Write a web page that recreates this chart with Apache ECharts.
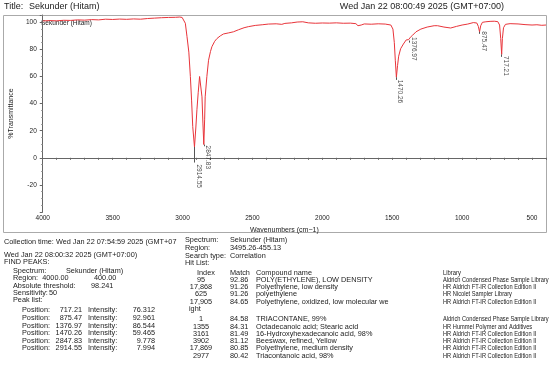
<!DOCTYPE html>
<html><head><meta charset="utf-8">
<script src="https://cdn.jsdelivr.net/npm/echarts@6/dist/echarts.min.js"></script>
<style>html,body{margin:0;padding:0;background:#fff}#c{width:550px;height:365px}</style>
</head><body><div id="c"></div>
<script>
// Spectrum: wavenumber (cm-1) and %Transmittance
const wavenumbers = [4000,3950,3900,3850,3800,3750,3700,3650,3600,3550,3500,3450,3400,3350,3300,3250,3200,3150,3100,3050,3020,3003,2990,2980,2968,2955,2944,2935,2927,2914.55,2905,2897,2888,2878,2868,2861,2854,2847.83,2842,2838,2826,2814,2800,2790,2770,2754,2730,2707,2670,2636,2600,2560,2529,2480,2430,2386,2330,2290,2268,2220,2180,2170,2160,2149,2140,2100,2050,2000,1950,1900,1850,1800,1760,1745,1734,1722,1700,1650,1600,1550,1510,1495,1485,1478,1470.26,1462,1454,1440,1420,1400,1390,1383,1376.97,1370,1354,1330,1295,1250,1200,1176,1130,1082,1040,1000,960,920,895,884,875.47,867,855,830,800,770,745,732,724,717.21,712,704,690,657,600,550,500,465,430,400];
const transmittance = [101.0,101.3,101.1,101.5,101.4,101.8,101.6,102.0,101.8,102.3,102.1,102.4,102.2,102.5,102.3,102.8,103.1,103.4,103.6,103.7,103.9,103.6,102.5,99.3,89.4,78,60,42,23,7.994,22,35.5,48,60,61.2,45,25,9.778,28,45,60,72,78.5,82,86,88,90,91.4,92.2,93,94.5,96,96.8,97.7,98.2,98.7,98.9,98.5,99.2,99.6,100.2,101.5,100.3,101.7,100.4,99.6,99.3,99.5,99.4,99.6,99.3,99.4,99.0,97.5,96.6,98.0,98.8,98.6,98.9,98.7,98.0,95,85,72,59.465,68,75,80.5,84,87,87.5,87.2,86.544,89,90.5,93,95,96.5,97.5,97.5,96.5,95.8,97,98,98.7,99.8,99.5,97,92.961,97.5,100,100.4,100.7,100.8,100.5,98,88,76.312,88,96,98.5,99,98.8,98.3,98.0,98.2,97.8,98];

// Peak list
const peakPositions = [717.21, 875.47, 1376.97, 1470.26, 2847.83, 2914.55];
const peakIntensities = [76.312, 92.961, 86.544, 59.465, 9.778, 7.994];
const peakLabels = ['717.21','875.47','1376.97','1470.26','2847.83','2914.55'];
const peakLineBottoms = [74.5, 91.5, 85, 57.5, 8.5, -3.5];

// Hit list
const hitIndex = ['95','17,868','625','17,905','1','1355','3161','3902','17,869','2977'];
const hitMatch = ['92.86','91.26','91.26','84.65','84.58','84.31','81.49','81.12','80.85','80.42'];
const hitName = ['POLY(ETHYLENE), LOW DENSITY','Polyethylene, low density','polyethylene','Polyethylene, oxidized, low molecular we','TRIACONTANE, 99%','Octadecanoic acid; Stearic acid','16-Hydroxyhexadecanoic acid, 98%','Beeswax, refined, Yellow','Polyethylene, medium density','Triacontanoic acid, 98%'];
const hitLibrary = ['Aldrich Condensed Phase Sample Library','HR Aldrich FT-IR Collection Edition II','HR Nicolet Sampler Library','HR Aldrich FT-IR Collection Edition II','Aldrich Condensed Phase Sample Library','HR Hummel Polymer and Additives','HR Aldrich FT-IR Collection Edition II','HR Aldrich FT-IR Collection Edition II','HR Aldrich FT-IR Collection Edition II','HR Aldrich FT-IR Collection Edition II'];

// layout-only settings
const labelShift = {'717.21':[5,2],'875.47':[5,0],'1376.97':[4.5,-3],'1470.26':[3.5,3],'2847.83':[4.5,1.5],'2914.55':[5,18]};
const FONT = 'Liberation Sans, Arial, sans-serif';
const TXT = '#222';
const FS = 7.3;

const chart = echarts.init(document.getElementById('c'), null, {renderer:'canvas'});

const specData = wavenumbers.map((w,i)=>[w, transmittance[i]]);
const peakData = peakPositions.map((p,i)=>({
  value:[p, peakIntensities[i]],
  label:{position: labelShift[peakLabels[i]], formatter: peakLabels[i]}
}));
const peakLines = peakPositions.map((p,i)=>[{coord:[p, peakIntensities[i]]},{coord:[p, peakLineBottoms[i]]}]);

const g = [];
function t(text, x, y, size, align, sx){
  g.push({type:'text', x:x, y:y, scaleX: sx||1, silent:true, style:{text:text, font: size+'px '+FONT, fill:TXT, align:align||'left', verticalAlign:'middle'}});
}
// frame
g.push({type:'rect', shape:{x:3.5,y:15.5,width:543,height:217}, style:{fill:'none', stroke:'#aaa', lineWidth:1}, silent:true, z:-1});
t('Title:', 4, 7, 9);
t('Sekunder (Hitam)', 29, 7, 9);
t('Wed Jan 22 08:00:49 2025 (GMT+07:00)', 504, 7, 9, 'right');
t('Sekunder (Hitam)', 41, 23.5, 6.5);
// info block left
t('Collection time: Wed Jan 22 07:54:59 2025 (GMT+07', 4, 242, FS);
t('Wed Jan 22 08:00:32 2025 (GMT+07:00)', 4, 254.5, FS);
t('FIND PEAKS:', 4, 261.5, FS);
t('Spectrum:', 13, 270.5, FS); t('Sekunder (Hitam)', 66, 270.5, FS);
t('Region:  4000.00', 13, 278, FS); t('400.00', 94, 278, FS);
t('Absolute threshold:', 13, 285.5, FS); t('98.241', 91, 285.5, FS);
t('Sensitivity:', 13, 292.7, FS); t('50', 49, 292.7, FS);
t('Peak list:', 13, 300, FS);
const peakRowY = [310, 318, 325.7, 333.3, 341, 348.3];
peakPositions.forEach((p,i)=>{
  t('Position:', 22, peakRowY[i], FS);
  t(p.toFixed(2), 82, peakRowY[i], FS, 'right');
  t('Intensity:', 88, peakRowY[i], FS);
  t(peakIntensities[i].toFixed(3), 155, peakRowY[i], FS, 'right');
});
// info block right
t('Spectrum:', 185, 240, FS); t('Sekunder (Hitam)', 230, 240, FS);
t('Region:', 185, 248, FS); t('3495.26-455.13', 230, 248, FS);
t('Search type:', 185, 255.5, FS); t('Correlation', 230, 255.5, FS);
t('Hit List:', 185, 262.7, FS);
t('Index', 197, 272.5, FS); t('Match', 230, 272.5, FS); t('Compound name', 256, 272.5, FS); t('Library', 443, 272.5, FS, 'left', 0.8);
const hitRowY = [280, 287, 294.2, 301.5, 319.3, 326.6, 334, 341.2, 348.4, 355.7];
hitIndex.forEach((v,i)=>{
  t(v, 201, hitRowY[i], FS, 'center');
  t(hitMatch[i], 230, hitRowY[i], FS);
  t(hitName[i], 256, hitRowY[i], FS);
  t(hitLibrary[i], 443, hitRowY[i], FS, 'left', 0.78);
});
t('ight', 189, 309, FS);

chart.setOption({
  animation:false,
  backgroundColor:'#fff',
  grid:{left:40, right:4, top:15, bottom:153, containLabel:false},
  xAxis:{
    type:'value', min:400, max:4000, interval:100, inverse:true,
    name:'Wavenumbers (cm\u22121)', nameLocation:'middle', nameGap:14,
    nameTextStyle:{fontFamily:FONT, fontSize:7, color:TXT, padding:[0,20,0,0]},
    axisLine:{lineStyle:{color:'#666', width:1}},
    axisTick:{show:true, length:2, lineStyle:{color:'#666'}},
    axisLabel:{interval:0, fontFamily:FONT, fontSize:6.5, color:TXT, margin:3,
      formatter:v=> (v%500===0 ? String(v) : '')},
    splitLine:{show:false}
  },
  yAxis:{
    type:'value', min:-40, max:105.4, interval:20,
    name:'%Transmittance', nameLocation:'middle', nameGap:25, nameRotate:90,
    nameTextStyle:{fontFamily:FONT, fontSize:7, color:TXT},
    axisLine:{show:true, lineStyle:{color:'#666', width:1}},
    axisTick:{show:true, length:3, lineStyle:{color:'#666'}},
    minorTick:{show:true, splitNumber:4, length:1.5, lineStyle:{color:'#888'}},
    axisLabel:{fontFamily:FONT, fontSize:6.5, color:TXT, margin:6, showMaxLabel:false,
      formatter:v=> (v>-40 && Math.abs(v%20)<1e-6 ? String(v) : '')},
    splitLine:{show:false}
  },
  series:[
    {type:'line', data:specData, showSymbol:false, symbol:'none', lineStyle:{color:'#e8343a', width:1}, z:3},
    {type:'scatter', data:peakData, symbolSize:1, itemStyle:{color:'rgba(0,0,0,0)'}, z:4,
     label:{show:true, rotate:-90, align:'left', verticalAlign:'middle', fontFamily:FONT, fontSize:6.5, color:TXT},
     markLine:{symbol:['none','none'], silent:true, label:{show:false}, lineStyle:{color:'#555', width:1, type:'solid'}, data:peakLines}
    }
  ],
  graphic:g
});
</script></body></html>
